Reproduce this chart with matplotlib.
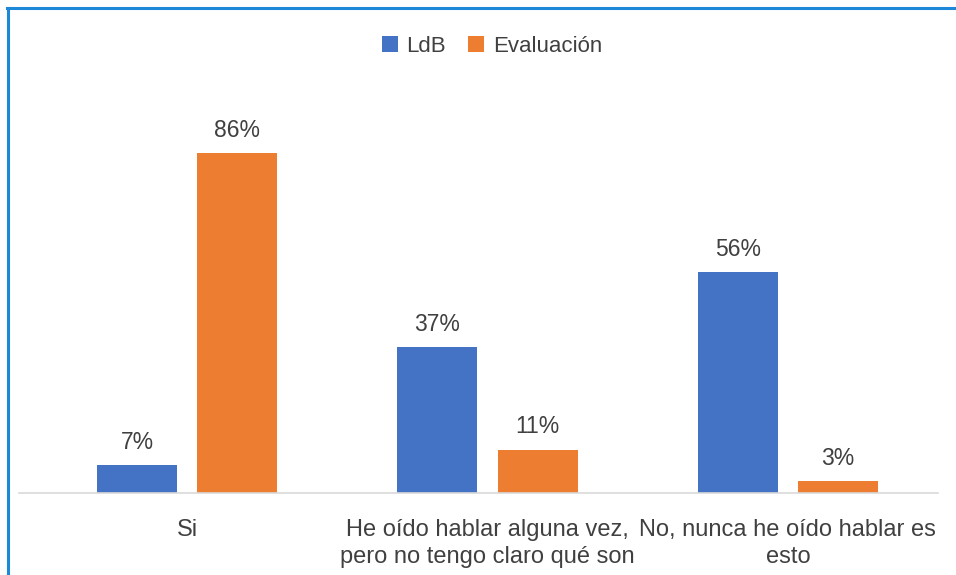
import numpy as np
import matplotlib.pyplot as plt
from matplotlib.lines import Line2D

# data
categories = ['Si', 'He oído hablar alguna vez,\npero no tengo claro qué son',
              'No, nunca he oído hablar es\nesto']
ldb = [7, 37, 56]
evaluacion = [86, 11, 3]
series_names = ['LdB', 'Evaluación']

plt.rcParams['font.family'] = ['Liberation Sans', 'DejaVu Sans']
txt = '#404040'

W, H = 956, 575
fig = plt.figure(figsize=(W / 100, H / 100), dpi=100)
ax = fig.add_axes([37 / W, (H - 493) / H, (938 - 37) / W, (493 - 98) / H])

x = np.arange(len(categories))
bw = 80 / 300
off = 50 / 300
b1 = ax.bar(x - off, ldb, bw, color='#4472C4', label=series_names[0], zorder=2)
b2 = ax.bar(x + off, evaluacion, bw, color='#ED7D31', label=series_names[1], zorder=2)

for bars, vals in ((b1, ldb), (b2, evaluacion)):
    for r, v in zip(bars, vals):
        ax.annotate(f'{v}%', (r.get_x() + r.get_width() / 2, v), xytext=(0, 8),
                    textcoords='offset points', ha='center', va='bottom',
                    fontsize=16.5, color=txt)

ax.set_xlim(-0.5, 2.5)
ax.set_ylim(0, 100)
ax.set_yticks([])
ax.set_xticks(x)
ax.set_xticklabels(categories, fontsize=17, color=txt, linespacing=1.3)
ax.tick_params(axis='x', length=0, pad=19)
for s in ['top', 'right', 'left']:
    ax.spines[s].set_visible(False)
ax.spines['bottom'].set_color('#D9D9D9')
ax.spines['bottom'].set_linewidth(1.2)
ax.spines['bottom'].set_bounds(-0.56, 2.5)
ax.spines['bottom'].set_zorder(3)

leg = fig.legend(loc='center', bbox_to_anchor=(492 / W, 1 - 46 / H), ncol=2,
                 frameon=False, fontsize=16, handlelength=0.7, handleheight=0.7,
                 handletextpad=0.4, columnspacing=1.0)
for t in leg.get_texts():
    t.set_color(txt)

# blue frame on left and top
fig.add_artist(Line2D([8 / W, 8 / W], [0, 1 - 8 / H], color='#1E88D8', lw=2.2,
                      transform=fig.transFigure))
fig.add_artist(Line2D([7 / W, 1], [1 - 8 / H, 1 - 8 / H], color='#1E88D8', lw=2.2,
                      transform=fig.transFigure))

fig.savefig('out.png', dpi=100)
